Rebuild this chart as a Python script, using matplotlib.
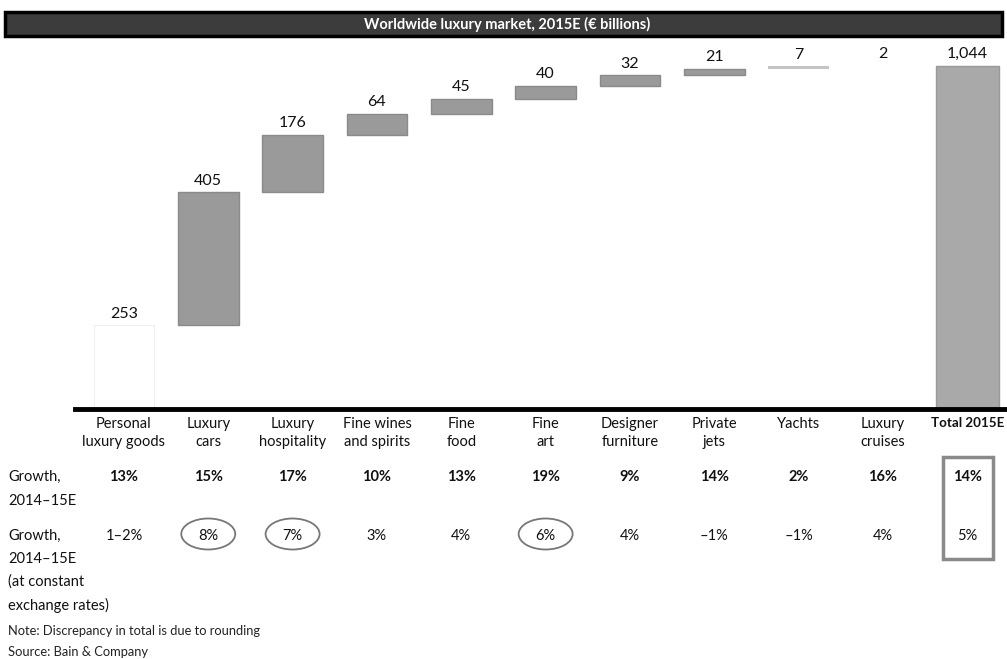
import matplotlib.pyplot as plt
import matplotlib.patches as mpatches
from matplotlib.transforms import blended_transform_factory
import numpy as np

plt.rcParams['font.family'] = ['Lato', 'DejaVu Sans']

# waterfall data, EUR billions
categories = ['Personal\nluxury goods', 'Luxury\ncars', 'Luxury\nhospitality', 'Fine wines\nand spirits',
              'Fine\nfood', 'Fine\nart', 'Designer\nfurniture', 'Private\njets', 'Yachts',
              'Luxury\ncruises', 'Total 2015E']
values = [253, 405, 176, 64, 45, 40, 32, 21, 7, 2]
total = 1044
value_labels = ['253', '405', '176', '64', '45', '40', '32', '21', '7', '2', '1,044']
growth = ['13%', '15%', '17%', '10%', '13%', '19%', '9%', '14%', '2%', '16%', '14%']
growth_const = ['1–2%', '8%', '7%', '3%', '4%', '6%', '4%', '–1%', '–1%', '4%', '5%']
circled = ['Luxury\ncars', 'Luxury\nhospitality', 'Fine\nart']
row_label_1 = ['Growth,', '2014–15E']
row_label_2 = ['Growth,', '2014–15E', '(at constant', 'exchange rates)']

W, H = 1007, 659
fig = plt.figure(figsize=(W / 100, H / 100), dpi=100)

def fy(py):
    return 1 - py / H

# bar area: baseline at y=408 px, from x=75 px to the right edge
ax = fig.add_axes([75 / W, fy(408), 1 - 75 / W, (408 - 40) / H])
ax.set_xlim(-0.58, 10.47)
ax.set_ylim(0, 1123)
ax.axis('off')

x = np.arange(len(categories))
bottoms = np.concatenate([[0], np.cumsum(values)[:-1]])
tops = bottoms + np.array(values)

for i in range(len(values)):
    if i == 0:
        ax.bar(x[i], values[i], bottom=bottoms[i], width=0.72, color='white',
               edgecolor='#f0f0f0', linewidth=0.8)
    elif values[i] < 5:
        ax.bar(x[i], values[i], bottom=bottoms[i], width=0.72, color='#f6f6f6', linewidth=0)
    elif values[i] < 10:
        ax.bar(x[i], values[i], bottom=bottoms[i], width=0.72, color='#c4c4c4', linewidth=0)
    else:
        ax.bar(x[i], values[i], bottom=bottoms[i], width=0.72, color='#9a9a9a',
               edgecolor='#8a8a8a', linewidth=1.0)
ax.bar(x[-1], total, width=0.75, color='#a9a9a9', edgecolor='#999999', linewidth=1.0)

label_pos = list(tops) + [total]
for i, txt in enumerate(value_labels):
    ax.text(x[i], label_pos[i] + 14, txt, ha='center', va='bottom', fontsize=11.5, color='#111111')

# baseline
fig.add_artist(plt.Line2D([75 / W, 1], [fy(409), fy(409)], color='black', linewidth=3.5))

tr = blended_transform_factory(ax.transData, fig.transFigure)

for i, cat in enumerate(categories):
    bold = cat == 'Total 2015E'
    ax.text(x[i], fy(417), cat, transform=tr, ha='center', va='top',
            fontsize=9.6 if bold else 10.5, fontweight='bold' if bold else 'normal',
            linespacing=1.4, color='#111111')
    ax.text(x[i], fy(477), growth[i], transform=tr, ha='center', va='center', fontsize=10.5,
            fontweight='bold', color='#111111')
    ax.text(x[i], fy(536), growth_const[i], transform=tr, ha='center', va='center', fontsize=10.5,
            color='#111111')
    if cat in circled:
        ax.add_patch(mpatches.Ellipse((x[i], fy(534)), 0.64, 31 / H, transform=tr, fill=False,
                                      edgecolor='#777777', linewidth=1.3, clip_on=False))

# box around the totals
ax.add_patch(mpatches.Rectangle((x[-1] - 0.29, fy(559)), 0.59, 102 / H, transform=tr, fill=False,
                                edgecolor='#8a8a8a', linewidth=2.5, clip_on=False))

for j, line in enumerate(row_label_1):
    fig.text(8 / W, fy(477 + 24 * j), line, ha='left', va='center', fontsize=10.5, color='#111111')
for j, line in enumerate(row_label_2):
    fig.text(8 / W, fy(536 + 23 * j), line, ha='left', va='center', fontsize=10.5, color='#111111')

fig.text(8 / W, fy(631), 'Note: Discrepancy in total is due to rounding', ha='left', va='center',
         fontsize=9.3, color='#222222')
fig.text(8 / W, fy(652), 'Source: Bain & Company', ha='left', va='center', fontsize=9.3, color='#222222')

# title banner
fig.add_artist(mpatches.Rectangle((5 / W, fy(38)), 997 / W, 26 / H, transform=fig.transFigure,
                                  facecolor='#b0b0b0', edgecolor='none'))
fig.add_artist(mpatches.Rectangle((5 / W, fy(36)), 997 / W, 24 / H, transform=fig.transFigure,
                                  facecolor='#3c3c3c', edgecolor='black', linewidth=2.5))
fig.text(507 / W, fy(24), 'Worldwide luxury market, 2015E (€ billions)', ha='center', va='center',
         fontsize=10.5, fontweight='bold', color='white')

fig.savefig('out.png', dpi=100)
